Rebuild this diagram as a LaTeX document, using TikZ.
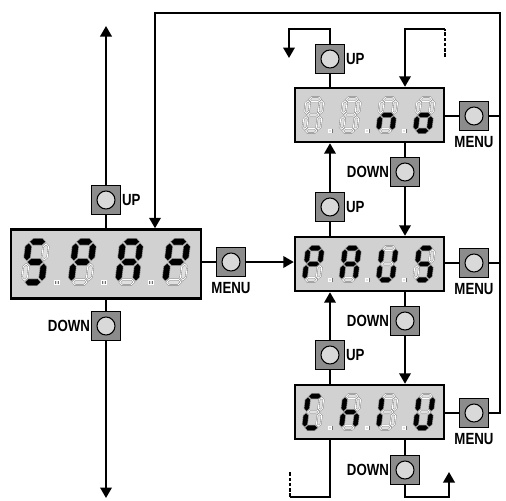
\documentclass[tikz,border=0pt]{standalone}
\usepackage{fontspec}
\setsansfont[FakeStretch=0.82]{Liberation Sans}
\usetikzlibrary{positioning,arrows.meta}

% segment shapes of one display digit (unit: digit width)
\newcommand{\hseg}[2]{(#1-0.31,#2) -- (#1-0.19,#2+0.12) -- (#1+0.19,#2+0.12) -- (#1+0.31,#2) -- (#1+0.19,#2-0.12) -- (#1-0.19,#2-0.12) -- cycle}
\newcommand{\vseg}[2]{(#1,#2-0.35) -- (#1+0.12,#2-0.23) -- (#1+0.12,#2+0.23) -- (#1,#2+0.35) -- (#1-0.12,#2+0.23) -- (#1-0.12,#2-0.23) -- cycle}
\newcommand{\sega}{\hseg{0.5}{1.88}}
\newcommand{\segb}{\vseg{0.88}{1.44}}
\newcommand{\segc}{\vseg{0.88}{0.56}}
\newcommand{\segd}{\hseg{0.5}{0.12}}
\newcommand{\sege}{\vseg{0.12}{0.56}}
\newcommand{\segf}{\vseg{0.12}{1.44}}
\newcommand{\segg}{\hseg{0.5}{1.0}}
\newcommand{\segz}{}
% digit: x, y (bottom left), width, lit segments, decimal point
\newcommand{\digit}[5]{%
	\begin{scope}[shift={(#1,#2)}, x={(#3*0.2mm,0)}, y={(#3*0.024mm,#3*0.2mm)}]
		\foreach \s in {a,b,c,d,e,f,g} \path[unlit] \csname seg\s\endcsname;
		\foreach \s in {#4} \path[lit] \csname seg\s\endcsname;
		\ifnum#5=1 \path[unlit] (1.47,0.02) rectangle ++(0.17,0.17);\fi
	\end{scope}}

\tikzset{
	disp/.style={draw, line width=1.4pt, fill=black!18, rectangle, inner sep=0pt},
	btn/.style={draw, line width=0.7pt, fill=black!45, minimum size=5.7mm, inner sep=0pt,
		path picture={\draw[line width=0.6pt, fill=black!15] (path picture bounding box.center) circle (1.8mm);}},
	lbl/.style={font=\sffamily\bfseries\fontsize{9.2}{10}\selectfont, inner sep=0.5pt},
	upbtn/.style={btn, label={[lbl]right:UP}},
	downbtn/.style={btn, label={[lbl]left:DOWN}},
	menubtn/.style={btn, label={[lbl, label distance=0.8mm]below:MENU}},
	wire/.style={line width=1.2pt},
	arr/.style={wire, -{Triangle[width=2.3mm,length=2.1mm]}},
	lit/.style={fill=black, draw=black, line width=0.3pt},
	unlit/.style={fill=black!12, draw=black!55, double=white, double distance=0.5pt, line width=0.2pt},
}

\begin{document}
\begin{tikzpicture}[x=0.2mm, y=-0.2mm]
	\useasboundingbox (0,0) rectangle (506,500);
	% Displays
	\node[disp, minimum width=38mm, minimum height=13.8mm] (spap) at (106,264) {};
	\node[disp, minimum width=29.8mm, minimum height=10.8mm] (no) at (369.5,115) {};
	\node[disp, minimum width=29.8mm, minimum height=10.8mm] (paus) at (369.5,264) {};
	\node[disp, minimum width=29.8mm, minimum height=10.8mm] (chiu) at (369.5,412) {};
	% Buttons
	\node[upbtn] (upL) at (106,200) {};
	\node[downbtn] (downL) at (106,326) {};
	\node[menubtn] (menuL) at (231,262) {};
	\node[upbtn] (upN) at (330,59) {};
	\node[menubtn] (menuN) at (474,116) {};
	\node[downbtn] (dnN) at (405,172) {};
	\node[upbtn] (upP) at (330,207) {};
	\node[menubtn] (menuP) at (474,263) {};
	\node[downbtn] (dnP) at (405,321) {};
	\node[upbtn] (upC) at (330,355) {};
	\node[menubtn] (menuC) at (474,413) {};
	\node[downbtn] (dnC) at (405,470) {};
	% Free ends
	\coordinate (topL) at (106,26);
	\coordinate (botL) at (106,498);
	\coordinate (tr) at (500,13);
	\coordinate (tl) at (155,13);
	\coordinate (nrow) at (0,29);
	\coordinate (brow) at (0,497);
	\coordinate (upNend) at (289,58);
	\coordinate (contN) at (445,57);
	\coordinate (contC) at (290,472);
	\coordinate (outC) at (449,472);
	% Left column
	\draw[wire] (spap.north) -- (upL.south);
	\draw[arr] (upL.north) -- (topL);
	\draw[wire] (spap.south) -- (downL.north);
	\draw[arr] (downL.south) -- (botL);
	\draw[wire] (menuL.west -| spap.east) -- (menuL.west);
	\draw[arr] (menuL.east) -- (menuL.east -| paus.west);
	% Back to the first display
	\draw[wire] (menuN.west -| no.east) -- (menuN.west);
	\draw[wire] (menuP.west -| paus.east) -- (menuP.west);
	\draw[wire] (menuC.west -| chiu.east) -- (menuC.west);
	\draw[wire] (menuN.east) -- (menuN.east -| tr);
	\draw[wire] (menuP.east) -- (menuP.east -| tr);
	\draw[arr] (menuC.east) -| (tr) -- (tl) -- (tl |- spap.north);
	% Top of the middle column
	\draw[wire] (no.north -| upN) -- (upN.south);
	\draw[arr] (upN.north) |- (upNend |- nrow) -- (upNend);
	\draw[wire, dash pattern=on 2pt off 1pt] (contN) -- (contN |- nrow);
	\draw[arr] (contN |- nrow) -| (no.north -| dnN);
	% no <-> PAUS
	\draw[wire] (no.south -| dnN) -- (dnN.north);
	\draw[arr] (dnN.south) -- (dnN.south |- paus.north);
	\draw[wire] (paus.north -| upP) -- (upP.south);
	\draw[arr] (upP.north) -- (upP.north |- no.south);
	% PAUS <-> ChIU
	\draw[wire] (paus.south -| dnP) -- (dnP.north);
	\draw[arr] (dnP.south) -- (dnP.south |- chiu.north);
	\draw[wire] (chiu.north -| upC) -- (upC.south);
	\draw[arr] (upC.north) -- (upC.north |- paus.south);
	% Bottom of the middle column
	\draw[wire] (chiu.south -| upC) |- (contC |- brow);
	\draw[wire, dash pattern=on 2pt off 1pt] (contC |- brow) -- (contC);
	\draw[wire] (chiu.south -| dnC) -- (dnC.north);
	\draw[arr] (dnC.south) |- (outC |- brow) -- (outC);
	% Digits
	\digit{21}{285}{23}{a,f,g,c,d}{1}
	\digit{68}{285}{23}{a,b,e,f,g}{1}
	\digit{115}{285}{23}{a,b,c,e,f,g}{1}
	\digit{162}{285}{23}{a,b,e,f,g}{0}
	\digit{302}{133}{18}{z}{1}
	\digit{339}{133}{18}{z}{1}
	\digit{376}{133}{18}{c,e,g}{1}
	\digit{413}{133}{18}{c,d,e,g}{0}
	\digit{302}{282}{18}{a,b,e,f,g}{1}
	\digit{339}{282}{18}{a,b,c,e,f,g}{1}
	\digit{376}{282}{18}{b,c,d,e,f}{1}
	\digit{413}{282}{18}{a,f,g,c,d}{0}
	\digit{302}{430}{18}{a,d,e,f}{1}
	\digit{339}{430}{18}{c,e,f,g}{1}
	\digit{376}{430}{18}{e,f}{1}
	\digit{413}{430}{18}{b,c,d,e,f}{0}
\end{tikzpicture}
\end{document}
